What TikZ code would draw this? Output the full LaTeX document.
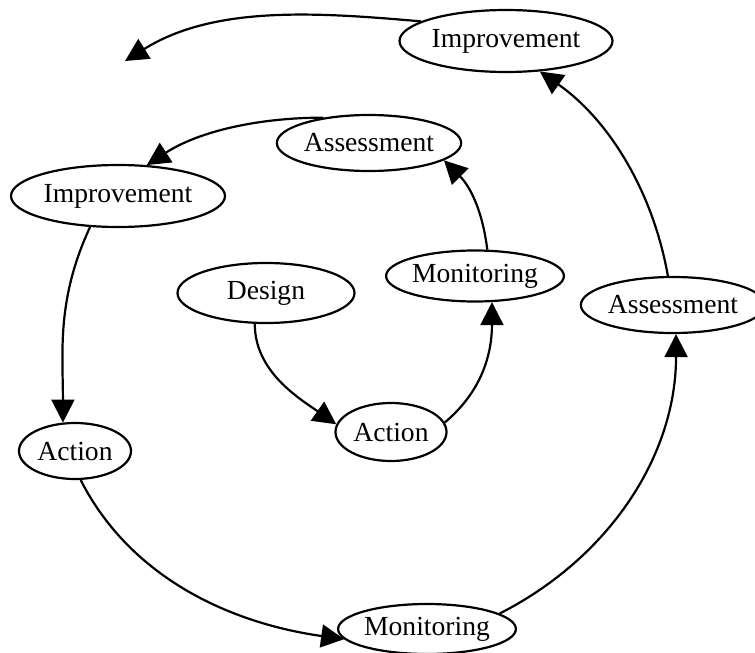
\documentclass[tikz,border=0pt]{standalone}
\usepackage{fontspec}
\setmainfont{Liberation Serif}
\usepackage{tikz}
\usetikzlibrary{positioning}
\usetikzlibrary{arrows.meta,shapes}
\tikzstyle{stage}=[ellipse,draw=black,line width=2.2pt,inner sep=0pt,font=\fontsize{27.6}{30}\selectfont]
\tikzstyle{edge} = [draw,line width=2.2pt,-{Triangle[length=23pt,width=23pt]}]

\begin{document}
\begin{tikzpicture}[x=1pt,y=-1pt]

  \useasboundingbox (0,0) rectangle (755,653);

  % inner turn of the spiral
  \foreach \x/\y/\w/\h/\name/\label in {266/293/177/60/des/Design, 391/432/111/58/act1/Action, 475/276/159/51/mon1/Monitoring, 369/143/170/56/ass1/Assessment}
          \node[stage, minimum width=\w pt, minimum height=\h pt] (\name) at (\x, \y) {\label};

  % outer turn
  \foreach \x/\y/\w/\h/\name/\label in {118/196/214/62/imp1/Improvement, 75/451/112/56/act2/Action, 427/629/158/50/mon2/Monitoring, 673/305/162/56/ass2/Assessment, 506/41/213/62/imp2/Improvement}
          \node[stage, minimum width=\w pt, minimum height=\h pt] (\name) at (\x, \y) {\label};

  \coordinate (next) at (125, 61);

  \foreach \source/\dest/\o/\i/\dout/\din in {des.250/act1.172/-90/145/48/45, act1.10/mon1.-57/40/-90/50/50, mon1.65/ass1.-13/97/-45/38/38, ass1.151/imp1.47/180/33/65/62, imp1.-132/act2.113/-115/90/80/70, act2.-79/mon2.-173/-63/172/112/112, mon2.12/ass2.-84/27/-90/125/120, ass2.100/imp2.-42/100/-35/85/85, imp2.167/next/175/32/105/105}
         \draw[edge] (\source) to[out=\o, in=\i, out distance=\dout pt, in distance=\din pt] (\dest);

\end{tikzpicture}
\end{document}
